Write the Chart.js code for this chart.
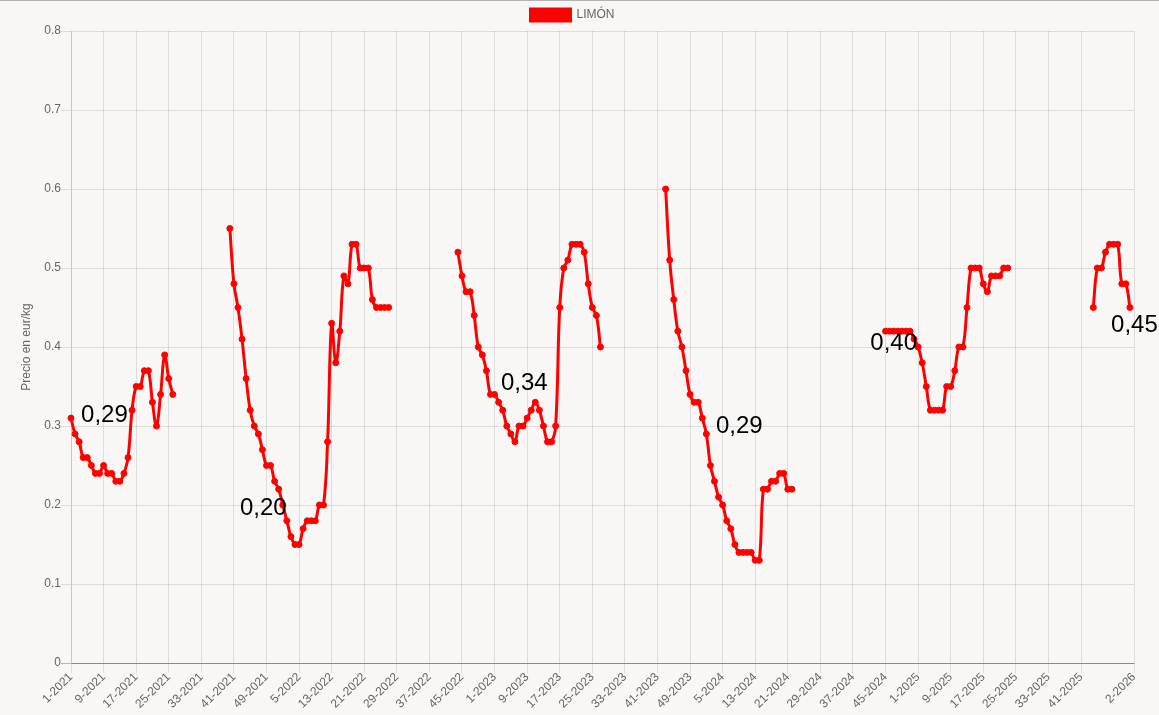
<!DOCTYPE html>
<html lang="es">
<head>
<meta charset="utf-8">
<title>Precio limón</title>
<script src="https://cdn.jsdelivr.net/npm/chart.js@4.4.1/dist/chart.umd.min.js"></script>
<style>
  html, body { margin: 0; padding: 0; background: #f8f7f6; }
  #marco { width: 1159px; height: 714px; border-top: 1px solid #b3b3b3; }
  canvas { display: block; }
</style>
</head>
<body>
<div id="marco"><canvas id="grafico" width="1159" height="714"></canvas></div>
<script>
// Semanas del eje x: 52 por año desde 2021 y las dos primeras de 2026
const anios = [2021, 2022, 2023, 2024, 2025];
const semanasPorAnio = 52;
const semanasExtra = ["1-2026", "2-2026"];

// Precios semanales (eur/kg) por campaña, con la semana en que empieza cada una
const inicioCampania = ["1-2021", "40-2021", "44-2022", "43-2023", "45-2024", "44-2025"];
const campania1 = [0.31, 0.29, 0.28, 0.26, 0.26, 0.25, 0.24, 0.24, 0.25, 0.24, 0.24, 0.23, 0.23,
                   0.24, 0.26, 0.32, 0.35, 0.35, 0.37, 0.37, 0.33, 0.30, 0.34, 0.39, 0.36, 0.34];
const campania2 = [0.55, 0.48, 0.45, 0.41, 0.36, 0.32, 0.30, 0.29, 0.27, 0.25, 0.25, 0.23, 0.22, 0.20,
                   0.18, 0.16, 0.15, 0.15, 0.17, 0.18, 0.18, 0.18, 0.20, 0.20, 0.28, 0.43, 0.38, 0.42,
                   0.49, 0.48, 0.53, 0.53, 0.50, 0.50, 0.50, 0.46, 0.45, 0.45, 0.45, 0.45];
const campania3 = [0.52, 0.49, 0.47, 0.47, 0.44, 0.40, 0.39, 0.37, 0.34, 0.34, 0.33, 0.32, 0.30, 0.29,
                   0.28, 0.30, 0.30, 0.31, 0.32, 0.33, 0.32, 0.30, 0.28, 0.28, 0.30, 0.45, 0.50, 0.51,
                   0.53, 0.53, 0.53, 0.52, 0.48, 0.45, 0.44, 0.40];
const campania4 = [0.60, 0.51, 0.46, 0.42, 0.40, 0.37, 0.34, 0.33, 0.33, 0.31, 0.29, 0.25, 0.23, 0.21,
                   0.20, 0.18, 0.17, 0.15, 0.14, 0.14, 0.14, 0.14, 0.13, 0.13, 0.22, 0.22, 0.23, 0.23,
                   0.24, 0.24, 0.22, 0.22];
const campania5 = [0.42, 0.42, 0.42, 0.42, 0.42, 0.42, 0.42, 0.41, 0.40, 0.38, 0.35, 0.32, 0.32, 0.32,
                   0.32, 0.35, 0.35, 0.37, 0.40, 0.40, 0.45, 0.50, 0.50, 0.50, 0.48, 0.47, 0.49, 0.49,
                   0.49, 0.50, 0.50];
const campania6 = [0.45, 0.50, 0.50, 0.52, 0.53, 0.53, 0.53, 0.48, 0.48, 0.45];

// Textos sueltos sobre el gráfico (posición en semana del eje y precio)
const etiquetas = ["0,29", "0,20", "0,34", "0,29", "0,40", "0,45"];
const etiquetaSemana = [8.2, 47.2, 111.3, 164.1, 202.0, 261.1];
const etiquetaValor = [0.314, 0.196, 0.354, 0.300, 0.404, 0.428];

// Armar etiquetas de semanas y la serie completa con huecos
let semanas = [];
anios.forEach((anio) => {
    for (let s = 1; s <= semanasPorAnio; s++) {
        semanas.push(s + "-" + anio);
    }
});
semanas = semanas.concat(semanasExtra);

let precios = semanas.map(() => null);
const campanias = [campania1, campania2, campania3, campania4, campania5, campania6];
campanias.forEach((valores, c) => {
    let desde = semanas.indexOf(inicioCampania[c]);
    valores.forEach((v, k) => { precios[desde + k] = v; });
});

const ultimo = semanas.length - 1;
function semanaVisible(i) {
    return i === ultimo || (i % 8 === 0 && i + 8 <= ultimo);
}

const fuente = { family: '"Liberation Sans", Arial, Helvetica, sans-serif', size: 12 };

const pluginEtiquetas = {
    id: "etiquetas",
    afterDatasetsDraw(chart) {
        const { ctx, scales: { x, y } } = chart;
        ctx.save();
        ctx.font = '24px "Liberation Sans", Arial, sans-serif';
        ctx.fillStyle = "#000";
        ctx.textAlign = "center";
        ctx.textBaseline = "middle";
        etiquetas.forEach((t, i) => {
            ctx.fillText(t, x.getPixelForValue(etiquetaSemana[i]), y.getPixelForValue(etiquetaValor[i]));
        });
        ctx.restore();
    }
};

const ctx = document.getElementById("grafico");

let grafico = new Chart(ctx, {
    type: "line",
    data: {
        labels: semanas,
        datasets: [{
            label: "LIMÓN",
            data: precios,
            borderColor: "#ff0000",
            backgroundColor: "#ff0000",
            borderWidth: 3,
            pointRadius: 3,
            pointBorderWidth: 1,
            pointBackgroundColor: "#ff0000",
            pointBorderColor: "#ff0000",
            tension: 0.4,
            fill: false,
            spanGaps: false
        }]
    },
    options: {
        responsive: false,
        animation: false,
        devicePixelRatio: 1,
        layout: { padding: { left: 0, right: 14, top: 0, bottom: 0 } },
        plugins: {
            legend: {
                position: "top",
                labels: { boxWidth: 40, boxHeight: 12, padding: 8, color: "#666", font: fuente }
            },
            tooltip: { enabled: false }
        },
        scales: {
            x: {
                grid: { color: "rgba(0,0,0,0.1)", tickLength: 10 },
                border: { color: "rgba(0,0,0,0.25)" },
                ticks: { autoSkip: false, minRotation: 45, maxRotation: 45, padding: -3, color: "#666", font: fuente },
                afterBuildTicks: (escala) => {
                    escala.ticks = escala.ticks.filter((t) => semanaVisible(t.value));
                },
                afterFit: (escala) => {
                    escala.height = 52;
                    escala.paddingRight = 25;
                }
            },
            y: {
                min: 0,
                max: 0.8,
                ticks: { stepSize: 0.1, padding: 0, color: "#666", font: fuente },
                grid: {
                    color: (c) => (c.tick && c.tick.value === 0 ? "rgba(0,0,0,0.25)" : "rgba(0,0,0,0.1)"),
                    tickLength: 10
                },
                border: { color: "rgba(0,0,0,0.1)" },
                title: { display: true, text: "Precio en eur/kg", color: "#666", font: fuente, padding: { top: 19, bottom: 0 } },
                afterFit: (escala) => { escala.width = 71; }
            }
        }
    },
    plugins: [pluginEtiquetas]
});
</script>
</body>
</html>
